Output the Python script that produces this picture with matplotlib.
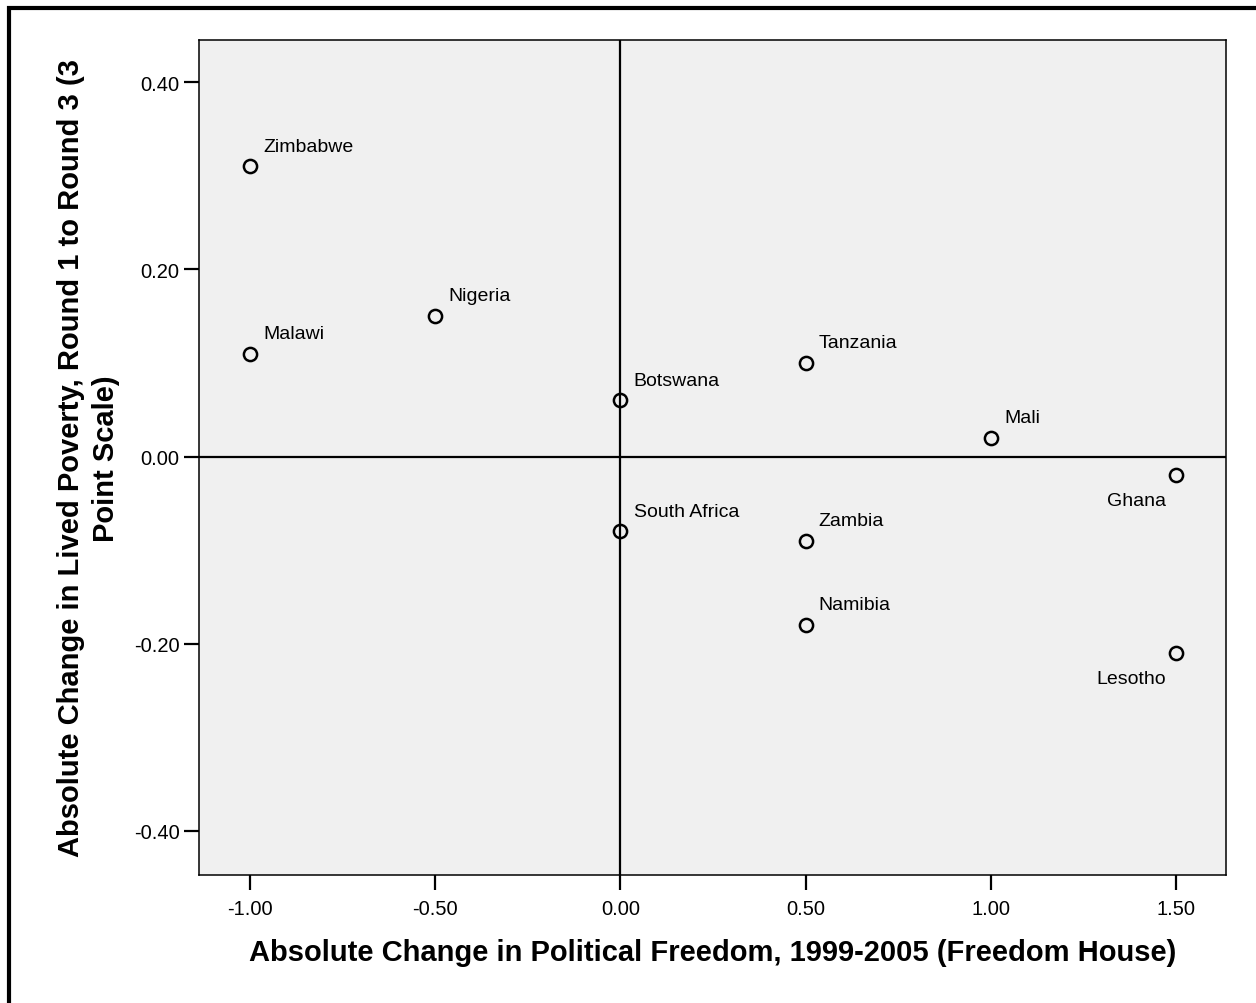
import matplotlib.pyplot as plt
from matplotlib.patches import Rectangle

plt.rcParams['font.family'] = ['Liberation Sans', 'DejaVu Sans']

countries = ['Zimbabwe', 'Malawi', 'Nigeria', 'Botswana', 'South Africa',
             'Tanzania', 'Zambia', 'Namibia', 'Mali', 'Ghana', 'Lesotho']
freedom_change = [-1.0, -1.0, -0.5, 0.0, 0.0, 0.5, 0.5, 0.5, 1.0, 1.5, 1.5]
poverty_change = [0.31, 0.11, 0.15, 0.06, -0.08, 0.10, -0.09, -0.18, 0.02, -0.02, -0.21]
# labels placed below-left of the point instead of above-right
below_left = ['Ghana', 'Lesotho']

x_ticks = [-1.0, -0.5, 0.0, 0.5, 1.0, 1.5]
y_ticks = [-0.4, -0.2, 0.0, 0.2, 0.4]

fig = plt.figure(figsize=(12.56, 10.04), dpi=100)
ax = fig.add_axes([0.1584, 0.1275, 0.8177, 0.8317])
ax.set_facecolor('#f0f0f0')

# frame round the whole chart
fig.patches.append(Rectangle((9 / 1256, -0.05), 1.2, (1004 - 9) / 1004 + 0.05,
                             transform=fig.transFigure, fill=False,
                             edgecolor='black', linewidth=3, zorder=0))

ax.axhline(0, color='black', linewidth=1.6, zorder=1)
ax.axvline(0, color='black', linewidth=1.6, zorder=1)

ax.plot(freedom_change, poverty_change, 'o', markersize=9.5,
        markerfacecolor='none', markeredgecolor='black',
        markeredgewidth=1.8, zorder=3)

for name, x, y in zip(countries, freedom_change, poverty_change):
    if name in below_left:
        ax.annotate(name, (x, y), xytext=(-7, -18), textcoords='offset points',
                    ha='right', va='center', fontsize=14)
    else:
        ax.annotate(name, (x, y), xytext=(9.5, 14.5), textcoords='offset points',
                    ha='left', va='center', fontsize=14)

ax.set_xlim(-1.138, 1.635)
ax.set_ylim(-0.447, 0.445)
ax.set_xticks(x_ticks)
ax.set_yticks(y_ticks)
ax.set_xticklabels(['%.2f' % v for v in x_ticks])
ax.set_yticklabels(['%.2f' % v for v in y_ticks])
ax.tick_params(direction='out', length=11, width=1.6, labelsize=14.5,
               colors='black')
ax.tick_params(axis='x', pad=6)
ax.tick_params(axis='y', pad=3)
for s in ax.spines.values():
    s.set_linewidth(1.1)

ax.set_xlabel('Absolute Change in Political Freedom, 1999-2005 (Freedom House)',
              fontsize=21, fontweight='bold', labelpad=15)
ax.set_ylabel('Absolute Change in Lived Poverty, Round 1 to Round 3 (3\nPoint Scale)',
              fontsize=21, fontweight='bold', labelpad=10, linespacing=1.3)

fig.savefig('out.png', dpi=100)
